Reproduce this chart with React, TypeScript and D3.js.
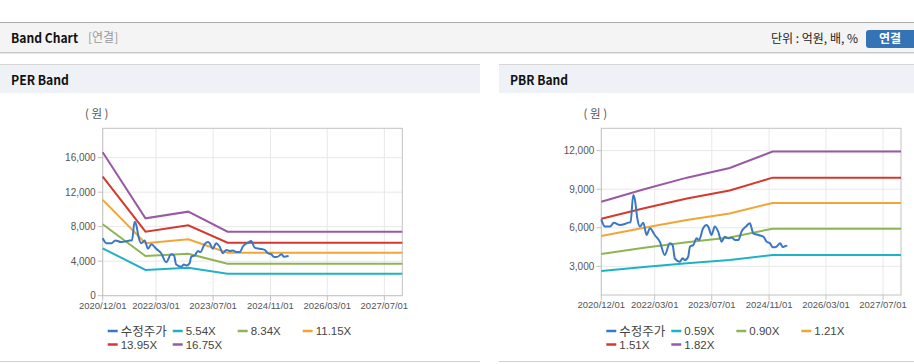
import React from "react";
import * as d3 from "d3";

// ---------- data ----------
const xTickDates = ["2020-12-01", "2022-03-01", "2023-07-01", "2024-11-01", "2026-03-01", "2027-07-01"];
const xTickLabels = ["2020/12/01", "2022/03/01", "2023/07/01", "2024/11/01", "2026/03/01", "2027/07/01"];

const priceDates = [
  "2020-12-01", "2021-01-01", "2021-02-14", "2021-03-18", "2021-05-08", "2021-06-20", "2021-07-18",
  "2021-08-08", "2021-08-30", "2021-09-14", "2021-10-04", "2021-10-26", "2021-11-24", "2021-12-22",
  "2022-01-20", "2022-03-02", "2022-04-14", "2022-05-26", "2022-07-08", "2022-08-01", "2022-08-20",
  "2022-10-02", "2022-10-25", "2022-11-14", "2022-12-12", "2022-12-27", "2023-01-25", "2023-02-22",
  "2023-03-15", "2023-04-18", "2023-05-17", "2023-06-01", "2023-06-29", "2023-07-27", "2023-08-25",
  "2023-09-23", "2023-10-21", "2023-11-19", "2023-12-17", "2024-01-15", "2024-02-13", "2024-03-11",
  "2024-04-23", "2024-05-21", "2024-06-19", "2024-08-01", "2024-09-13", "2024-10-11", "2024-11-09",
  "2024-12-02", "2024-12-30", "2025-02-03", "2025-02-26", "2025-03-16", "2025-04-05",
];
const priceValues = [
  6650, 6090, 6090, 6400, 6220, 6300, 6400,
  6420, 8560, 8170, 6740, 6090, 6400, 5440,
  5960, 5440, 4920, 3880, 4790, 4660, 3620,
  3360, 3620, 3490, 3750, 4530, 4660, 5180,
  5050, 5960, 6220, 6090, 5440, 6090, 5700,
  4920, 5310, 5180, 5250, 5050, 5050, 5700,
  6140, 6350, 5570, 5440, 5310, 4920, 4790,
  4480, 4500, 4790, 4500, 4560, 4610,
];

const perBandDates = ["2020-12-01", "2021-12-01", "2022-12-01", "2023-11-01", "2027-12-01"];
const perBandLabels = ["5.54X", "8.34X", "11.15X", "13.95X", "16.75X"];
const perBand1 = [5490, 2980, 3250, 2550, 2550];
const perBand2 = [8280, 4600, 4870, 3710, 3710];
const perBand3 = [11100, 6070, 6540, 4990, 4990];
const perBand4 = [13800, 7420, 8160, 6140, 6140];
const perBand5 = [16630, 8970, 9740, 7420, 7420];
const perYTicks = [0, 4000, 8000, 12000, 16000];

const pbrBandDates = ["2020-12-01", "2021-12-01", "2022-12-01", "2023-12-01", "2024-12-01", "2027-12-01"];
const pbrBandLabels = ["0.59X", "0.90X", "1.21X", "1.51X", "1.82X"];
const pbrBand1 = [2630, 2950, 3240, 3490, 3880, 3880];
const pbrBand2 = [3960, 4440, 4880, 5250, 5930, 5930];
const pbrBand3 = [5360, 6010, 6610, 7110, 7930, 7930];
const pbrBand4 = [6710, 7520, 8270, 8900, 9900, 9900];
const pbrBand5 = [8030, 9000, 9900, 10650, 11930, 11930];
const pbrYTicks = [3000, 6000, 9000, 12000];

const priceLabel = "수정주가";
const bandColors = ["#1fb2c7", "#8db553", "#f2a537", "#d5382d", "#9a58a5"];
const priceColor = "#3a78c6";

const parse = d3.timeParse("%Y-%m-%d");
const FONT = "'Noto Sans CJK KR', 'Noto Sans', sans-serif";
const NUMFONT = "'Liberation Sans', Arial, sans-serif";

type ChartProps = {
  x0: number; x1: number; yTop: number; yBottom: number;
  yDomain: [number, number]; yTicks: number[];
  bandDates: string[]; bands: number[][]; bandLabels: string[];
};

function BandChart(p: ChartProps) {
  const x = d3.scaleTime()
    .domain([parse("2020-12-01")!, parse("2027-12-01")!])
    .range([p.x0, p.x1]);
  const y = d3.scaleLinear().domain(p.yDomain).range([p.yBottom, p.yTop]);
  const line = d3.line<[Date, number]>().x((d) => x(d[0])).y((d) => y(d[1]));
  const fmt = d3.format(",");
  const bandPts = p.bands.map((vals) => vals.map((v, i) => [parse(p.bandDates[i])!, v] as [Date, number]));
  const pricePts = priceValues.map((v, i) => [parse(priceDates[i])!, v] as [Date, number]);

  const legendItems = [{ label: priceLabel, color: priceColor }].concat(
    p.bandLabels.map((l, i) => ({ label: l, color: bandColors[i] }))
  );

  return (
    <g>
      <text x={p.x0 - 6} y={p.yTop - 10} fontSize={11.5} fill="#555" fontFamily={FONT} textAnchor="middle">( 원 )</text>
      {/* grid */}
      {p.yTicks.map((t) => (
        <line key={"gy" + t} x1={p.x0} x2={p.x1} y1={y(t)} y2={y(t)} stroke="#e8e8e8" />
      ))}
      {xTickDates.map((d) => (
        <line key={"gx" + d} x1={x(parse(d)!)} x2={x(parse(d)!)} y1={p.yTop} y2={p.yBottom} stroke="#e8e8e8" />
      ))}
      <rect x={p.x0} y={p.yTop} width={p.x1 - p.x0} height={p.yBottom - p.yTop} fill="none" stroke="#c2c2c2" />
      {/* ticks */}
      {p.yTicks.map((t) => (
        <g key={"ty" + t}>
          <line x1={p.x0 - 5} x2={p.x0} y1={y(t)} y2={y(t)} stroke="#c2c2c2" />
          <text x={p.x0 - 7} y={y(t)} dy="0.35em" textAnchor="end" fontSize={10} fill="#555" fontFamily={NUMFONT}>{fmt(t)}</text>
        </g>
      ))}
      {xTickDates.map((d, i) => (
        <g key={"tx" + d}>
          <line x1={x(parse(d)!)} x2={x(parse(d)!)} y1={p.yBottom} y2={p.yBottom + 5} stroke="#c2c2c2" />
          <text x={x(parse(d)!)} y={p.yBottom + 10} dy="0.35em" textAnchor="middle" fontSize={9.5} fill="#555" fontFamily={NUMFONT}>{xTickLabels[i]}</text>
        </g>
      ))}
      {/* bands */}
      {bandPts.map((pts, i) => (
        <path key={"b" + i} d={line(pts)!} fill="none" stroke={bandColors[i]} strokeWidth={2} />
      ))}
      <path d={line.curve(d3.curveMonotoneX)(pricePts)!} fill="none" stroke={priceColor} strokeWidth={2} />
      {/* legend */}
      {legendItems.map((it, i) => {
        const col = i % 4;
        const row = Math.floor(i / 4);
        const lx = p.x0 + 5 + col * 65;
        const ly = 331 + row * 13.5;
        return (
          <g key={"l" + i}>
            <line x1={lx} x2={lx + 10} y1={ly} y2={ly} stroke={it.color} strokeWidth={2.5} />
            <text x={lx + 13} y={ly} dy="0.36em" fontSize={i === 0 ? 12.5 : 11.5} fill="#444" fontFamily={i === 0 ? FONT : NUMFONT}>{it.label}</text>
          </g>
        );
      })}
    </g>
  );
}

export default function App() {
  return (
    <svg width={914} height={364} style={{ position: "absolute", left: 0, top: 0, background: "#fff" }}>
      {/* header bar */}
      <rect x={0} y={22} width={914} height={31} fill="#f4f4f4" />
      <line x1={0} x2={914} y1={22.5} y2={22.5} stroke="#aaa" />
      <line x1={0} x2={914} y1={52.5} y2={52.5} stroke="#c8c8c8" />
      <line x1={0} x2={914} y1={53.5} y2={53.5} stroke="#e6e6e6" />
      <text x={11} y={38} dy="0.35em" fontSize={13} fontWeight="bold" fill="#111" fontFamily={FONT} textLength={67} lengthAdjust="spacingAndGlyphs">Band Chart</text>
      <text x={88} y={38} dy="0.35em" fontSize={12} fill="#999" fontFamily={FONT}>[연결]</text>
      <text x={858} y={39} dy="0.35em" fontSize={12} fill="#222" fontFamily={FONT} textAnchor="end">단위 : 억원, 배, %</text>
      <rect x={866} y={30} width={52} height={18} rx={3} fill="#3473b5" />
      <text x={890} y={39} dy="0.35em" fontSize={12} fontWeight="bold" fill="#fff" fontFamily={FONT} textAnchor="middle">연결</text>

      {/* panel headers */}
      <rect x={0} y={64} width={480} height={29} fill="#eef2f7" />
      <line x1={0} x2={480} y1={64.5} y2={64.5} stroke="#d6d6d6" />
      <rect x={499} y={64} width={415} height={29} fill="#eef2f7" />
      <line x1={499} x2={914} y1={64.5} y2={64.5} stroke="#d6d6d6" />
      <text x={11} y={80} dy="0.35em" fontSize={13} fontWeight="bold" fill="#111" fontFamily={FONT} textLength={58} lengthAdjust="spacingAndGlyphs">PER Band</text>
      <text x={510} y={80} dy="0.35em" fontSize={13} fontWeight="bold" fill="#111" fontFamily={FONT} textLength={58} lengthAdjust="spacingAndGlyphs">PBR Band</text>
      <line x1={0} x2={480} y1={361.5} y2={361.5} stroke="#d0d0d0" />
      <line x1={499} x2={914} y1={361.5} y2={361.5} stroke="#d0d0d0" />

      <BandChart
        x0={102.7} x1={402.3} yTop={128.3} yBottom={295.7}
        yDomain={[0, 19400]} yTicks={perYTicks}
        bandDates={perBandDates}
        bands={[perBand1, perBand2, perBand3, perBand4, perBand5]}
        bandLabels={perBandLabels}
      />
      <BandChart
        x0={601.3} x1={901} yTop={128.3} yBottom={295}
        yDomain={[770, 13740]} yTicks={pbrYTicks}
        bandDates={pbrBandDates}
        bands={[pbrBand1, pbrBand2, pbrBand3, pbrBand4, pbrBand5]}
        bandLabels={pbrBandLabels}
      />
    </svg>
  );
}
